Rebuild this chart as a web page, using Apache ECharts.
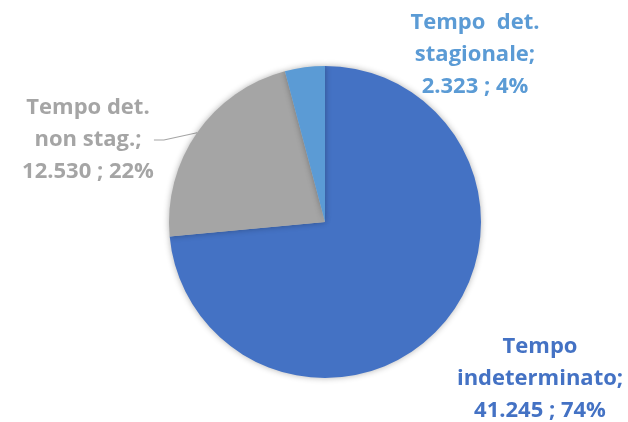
<!DOCTYPE html>
<html>
<head>
<meta charset="utf-8">
<script src="https://cdn.jsdelivr.net/npm/echarts@6/dist/echarts.min.js"></script>
<style>
  html, body { margin: 0; padding: 0; background: #fff; }
  #chart { width: 628px; height: 422px; }
</style>
</head>
<body>
<div id="chart"></div>
<script>
var categories = ['Tempo indeterminato', 'Tempo det. non stag.', 'Tempo  det. stagionale'];
var values = [41245, 12530, 2323];
var valueLabels = ['41.245', '12.530', '2.323'];
var percentLabels = ['74%', '22%', '4%'];

var colors = ['#4472C4', '#A5A5A5', '#5B9BD5'];
// label text split as in the original, one entry per slice
var labelLines = [
  ['Tempo', 'indeterminato;'],
  ['Tempo det.', 'non stag.;'],
  ['Tempo  det.', 'stagionale;']
];
// label centres (px)
var labelPos = [[540, 379], [88, 140], [475, 55]];

var myChart = echarts.init(document.getElementById('chart'));
myChart.setOption({
  color: colors,
  animation: false,
  series: [
    {
      type: 'pie',
      center: [325, 222],
      radius: [0, 156],
      startAngle: 90,
      clockwise: true,
      itemStyle: {
        shadowBlur: 6,
        shadowColor: 'rgba(0,0,0,0.3)'
      },
      label: {
        show: true,
        fontFamily: 'Open Sans',
        fontWeight: 'bold',
        fontSize: 22,
        lineHeight: 32,
        align: 'center',
        overflow: 'none',
        formatter: function(p) {
          var i = p.dataIndex;
          return labelLines[i].join('\n') + '\n' + valueLabels[i] + ' ; ' + percentLabels[i];
        }
      },
      labelLine: { show: false },
      labelLayout: function(params) {
        var pos = labelPos[params.dataIndex];
        return { x: pos[0], y: pos[1], align: 'center', verticalAlign: 'middle' };
      },
      data: categories.map(function(name, i) {
        var item = {
          name: name,
          value: values[i],
          label: { color: colors[i] }
        };
        if (i === 1) {
          item.labelLine = {
            show: true,
            length: 10,
            length2: 10,
            lineStyle: { color: '#A5A5A5', width: 1.2 }
          };
        }
        return item;
      })
    }
  ]
});
</script>
</body>
</html>
